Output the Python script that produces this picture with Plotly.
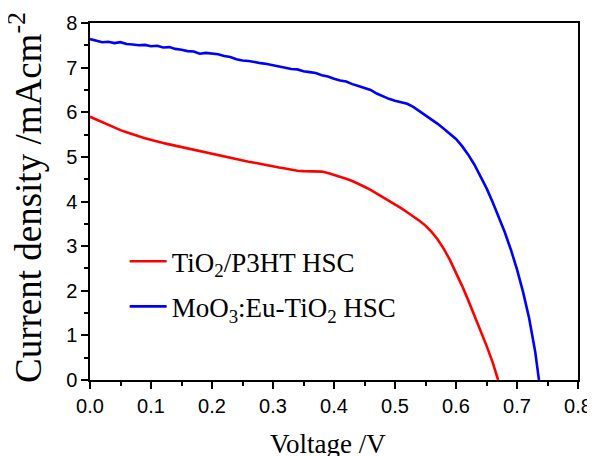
import plotly.graph_objects as go

# TiO2/P3HT HSC (red)
v_red = [0.00, 0.01, 0.02, 0.03, 0.04, 0.05, 0.06, 0.07, 0.08, 0.09,
         0.10, 0.11, 0.12, 0.13, 0.14, 0.15, 0.16, 0.17, 0.18, 0.19,
         0.20, 0.21, 0.22, 0.23, 0.24, 0.25, 0.26, 0.27, 0.28, 0.29,
         0.30, 0.31, 0.32, 0.33, 0.34, 0.35, 0.36, 0.37, 0.38, 0.39,
         0.40, 0.41, 0.42, 0.43, 0.44, 0.45, 0.46, 0.47, 0.48, 0.49,
         0.50, 0.51, 0.52, 0.53, 0.54, 0.55, 0.56, 0.57, 0.58, 0.59,
         0.60, 0.61, 0.62, 0.63, 0.64, 0.65, 0.66, 0.669]
j_red = [5.90, 5.84, 5.77, 5.71, 5.65, 5.60, 5.55, 5.50, 5.46, 5.42,
         5.38, 5.35, 5.31, 5.28, 5.25, 5.22, 5.19, 5.16, 5.12, 5.09,
         5.06, 5.03, 5.01, 4.98, 4.95, 4.92, 4.89, 4.87, 4.84, 4.81,
         4.78, 4.76, 4.74, 4.71, 4.69, 4.68, 4.68, 4.67, 4.67, 4.64,
         4.60, 4.56, 4.51, 4.46, 4.40, 4.33, 4.26, 4.18, 4.10, 4.01,
         3.93, 3.85, 3.76, 3.67, 3.57, 3.46, 3.32, 3.15, 2.94, 2.69,
         2.41, 2.11, 1.79, 1.46, 1.12, 0.77, 0.40, 0.00]

# MoO3:Eu-TiO2 HSC (blue)
v_blue = [0.000, 0.005, 0.01, 0.02, 0.03, 0.04, 0.05, 0.06, 0.07, 0.08, 0.09,
          0.10, 0.11, 0.12, 0.13, 0.14, 0.15, 0.16, 0.17, 0.18, 0.19,
          0.20, 0.21, 0.22, 0.23, 0.24, 0.25, 0.26, 0.27, 0.28, 0.29,
          0.30, 0.31, 0.32, 0.33, 0.34, 0.35, 0.36, 0.37, 0.38, 0.39,
          0.40, 0.41, 0.42, 0.43, 0.44, 0.45, 0.46, 0.47, 0.48, 0.49,
          0.50, 0.51, 0.52, 0.53, 0.54, 0.55, 0.56, 0.57, 0.58, 0.59,
          0.60, 0.61, 0.62, 0.63, 0.64, 0.65, 0.66, 0.67, 0.68, 0.69,
          0.70, 0.71, 0.72, 0.73, 0.736]
j_blue = [7.64, 7.62, 7.60, 7.57, 7.58, 7.55, 7.57, 7.53, 7.52, 7.50, 7.51,
          7.48, 7.49, 7.45, 7.46, 7.42, 7.40, 7.37, 7.36, 7.31, 7.33,
          7.32, 7.30, 7.26, 7.24, 7.19, 7.16, 7.15, 7.12, 7.10, 7.08,
          7.05, 7.03, 6.99, 6.97, 6.96, 6.92, 6.90, 6.88, 6.83, 6.80,
          6.75, 6.71, 6.69, 6.63, 6.59, 6.54, 6.50, 6.42, 6.36, 6.30,
          6.26, 6.23, 6.19, 6.12, 6.03, 5.93, 5.84, 5.74, 5.63, 5.52,
          5.40, 5.24, 5.05, 4.83, 4.58, 4.30, 3.99, 3.66, 3.31, 2.92,
          2.48, 1.97, 1.38, 0.62, 0.00]

x_ticks = [0.0, 0.1, 0.2, 0.3, 0.4, 0.5, 0.6, 0.7, 0.8]
x_labels = ["0.0", "0.1", "0.2", "0.3", "0.4", "0.5", "0.6", "0.7", "0.8"]
y_ticks = [0, 1, 2, 3, 4, 5, 6, 7, 8]
x_title = "Voltage /V"
y_title = "Current density /mAcm<sup>-2</sup>"

TIMES = "Liberation Serif, Times New Roman, serif"
ARIAL = "Liberation Sans, Arial, sans-serif"

fig = go.Figure()
fig.add_trace(go.Scatter(x=v_red, y=j_red, mode="lines",
                         line=dict(color="#ff0000", width=2.6),
                         legendgroup="a",
                         name="TiO<sub>2</sub>/P3HT HSC"))
fig.add_trace(go.Scatter(x=v_blue, y=j_blue, mode="lines",
                         line=dict(color="#0000ff", width=2.6),
                         legendgroup="b",
                         name="MoO<sub>3</sub>:Eu-TiO<sub>2</sub> HSC"))

axis_common = dict(
    showline=True, linecolor="black", linewidth=1.5, mirror=True,
    ticks="outside", ticklen=7, tickwidth=1.5, tickcolor="black",
    showgrid=False, zeroline=False, automargin=False,
    tickfont=dict(family=ARIAL, size=20, color="black"),
)

fig.update_xaxes(range=[0, 0.8], tickvals=x_ticks, ticktext=x_labels,
                 minor=dict(dtick=0.05, ticks="outside", ticklen=4, tickwidth=1.5, tickcolor="black"),
                 **axis_common)
fig.update_yaxes(range=[0, 8], tickvals=y_ticks,
                 minor=dict(dtick=0.5, ticks="outside", ticklen=4, tickwidth=1.5, tickcolor="black"),
                 **axis_common)

fig.add_annotation(text=x_title, xref="paper", yref="paper", x=0.488, y=0,
                   xanchor="center", yanchor="top", yshift=-47, showarrow=False,
                   font=dict(family=TIMES, size=27, color="black"))
fig.add_annotation(text=y_title, xref="paper", yref="paper", x=-0.131, y=0.51,
                   xanchor="center", yanchor="middle", textangle=-90, showarrow=False,
                   font=dict(family=TIMES, size=37, color="black"))

# the page adds an 8px body margin, so the figure is sized to fit the 595x456 window
fig.update_layout(
    width=587, height=448,
    margin=dict(l=82, r=17, t=15, b=76),
    paper_bgcolor="white", plot_bgcolor="white",
    legend=dict(x=0.071, y=0.40, xanchor="left", yanchor="top",
                font=dict(family=TIMES, size=27, color="black"),
                bgcolor="rgba(0,0,0,0)", tracegroupgap=7, itemwidth=37),
    showlegend=True,
)

fig.write_html("out.html")
